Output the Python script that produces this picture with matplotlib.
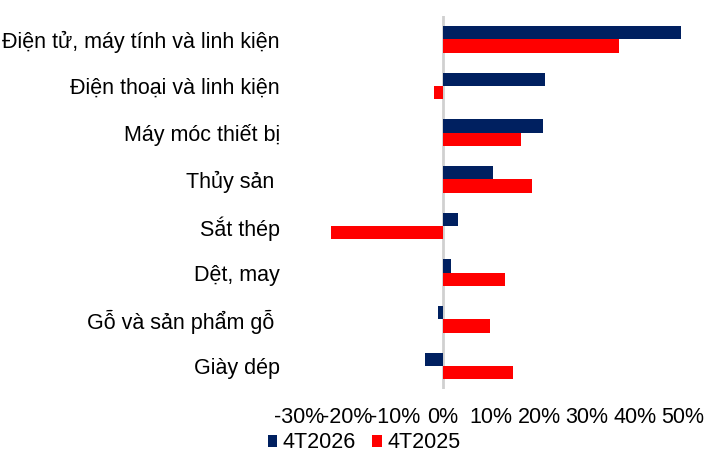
import numpy as np
import matplotlib
matplotlib.use("Agg")
import matplotlib.pyplot as plt
from matplotlib.ticker import FuncFormatter

plt.rcParams['font.family'] = ['Liberation Sans', 'DejaVu Sans']

categories = ["Điện tử, máy tính và linh kiện", "Điện thoại và linh kiện",
              "Máy móc thiết bị", "Thủy sản ", "Sắt thép", "Dệt, may",
              "Gỗ và sản phẩm gỗ ", "Giày dép"]
val_2026 = [49.6, 21.3, 20.8, 10.5, 3.2, 1.7, -1.1, -3.8]
val_2025 = [36.6, -1.8, 16.3, 18.6, -23.3, 13.0, 9.8, 14.6]
xticks = [-30, -20, -10, 0, 10, 20, 30, 40, 50]

navy = "#002060"
red = "#FF0000"

fig = plt.figure(figsize=(7.08, 4.57), dpi=100)
ax = fig.add_axes([0.4223, 0.148, 0.5424, 0.817])

y = np.arange(len(categories))
h = 0.286
ax.barh(y - h / 2, val_2026, height=h, color=navy, label="4T2026")
ax.barh(y + h / 2, val_2025, height=h, color=red, label="4T2025")
ax.axvline(0, color="#d0d0d0", linewidth=2, zorder=0)

ax.set_xlim(-30, 50)
ax.set_ylim(len(categories) - 0.5, -0.5)
ax.set_xticks(xticks)
ax.xaxis.set_major_formatter(FuncFormatter(lambda v, p: f"{v:.0f}%"))
ax.set_yticks(y)
ax.set_yticklabels(categories)
ax.tick_params(axis="both", length=0, labelsize=15.5)
ax.tick_params(axis="y", pad=13.7)
ax.tick_params(axis="x", pad=13)
for s in ax.spines.values():
    s.set_visible(False)

fig.legend(loc="center", bbox_to_anchor=(364 / 708, 1 - 443 / 457), ncol=2,
           frameon=False, fontsize=15.5, handlelength=0.45, handleheight=0.45,
           handletextpad=0.25, columnspacing=0.75)

fig.savefig("out.png", dpi=100)
